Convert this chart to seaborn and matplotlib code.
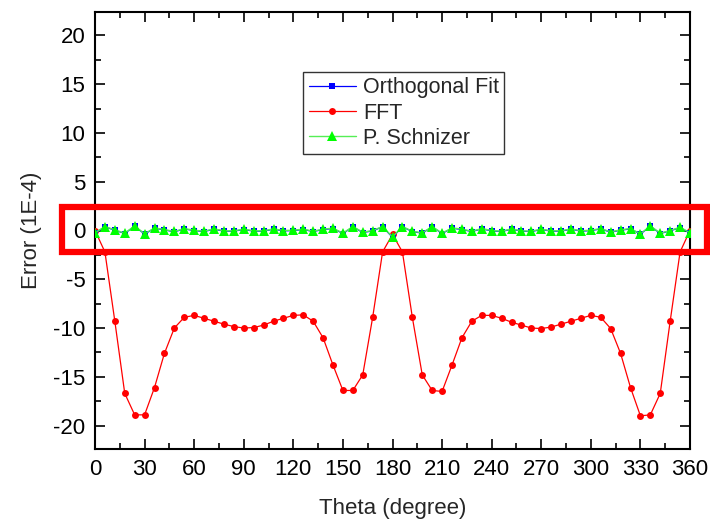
import numpy as np
import pandas as pd
import matplotlib
matplotlib.use("Agg")
import matplotlib.pyplot as plt
from matplotlib.patches import Rectangle
from matplotlib.ticker import MultipleLocator
import seaborn as sns

# Angular positions (degrees), one sample every 6 degrees
theta = list(range(0, 361, 6))

# Reconstruction error of each method, in units of 1E-4
fft_err = [0.0, -2.2, -9.3, -16.7, -18.9, -18.9, -16.1, -12.6, -10.0, -8.9,
           -8.7, -9.0, -9.3, -9.6, -9.85, -10.0, -9.95, -9.7, -9.3, -9.0,
           -8.7, -8.65, -9.3, -11.0, -13.8, -16.4, -16.4, -14.8, -8.9, -2.2,
           -0.4, -2.2, -8.9, -14.8, -16.4, -16.5, -13.8, -11.0, -9.3, -8.7,
           -8.7, -9.0, -9.4, -9.7, -10.0, -10.05, -9.9, -9.6, -9.3, -9.0,
           -8.7, -8.9, -10.05, -12.6, -16.1, -19.0, -18.9, -16.7, -9.3, -2.2,
           0.0]

ortho_err = [-0.28, 0.37, 0.03, -0.31, 0.44, -0.38, 0.23, 0.06, -0.14, 0.16,
             -0.01, -0.11, 0.13, -0.07, -0.07, 0.10, -0.07, -0.07, 0.13, -0.04,
             -0.01, 0.10, -0.11, 0.10, 0.20, -0.31, 0.37, -0.21, -0.04, 0.37,
             -0.70, 0.37, -0.11, -0.28, 0.37, -0.31, 0.23, 0.10, -0.11, 0.16,
             -0.04, -0.11, 0.13, -0.07, -0.11, 0.10, -0.07, -0.07, 0.13, -0.07,
             -0.01, 0.16, -0.18, 0.03, 0.16, -0.38, 0.44, -0.31, -0.04, 0.30,
             -0.28]

schnizer_err = [-0.24, 0.41, 0.07, -0.27, 0.48, -0.34, 0.27, 0.10, -0.10, 0.20,
                0.03, -0.07, 0.17, -0.03, -0.03, 0.14, -0.03, -0.03, 0.17, 0.00,
                0.03, 0.14, -0.07, 0.14, 0.24, -0.27, 0.41, -0.17, 0.00, 0.41,
                -0.66, 0.41, -0.07, -0.24, 0.41, -0.27, 0.27, 0.14, -0.07, 0.20,
                0.00, -0.07, 0.17, -0.03, -0.07, 0.14, -0.03, -0.03, 0.17, -0.03,
                0.03, 0.20, -0.14, 0.07, 0.20, -0.34, 0.48, -0.27, 0.00, 0.34,
                -0.24]

x_ticks = list(range(0, 361, 30))
y_ticks = [-20, -15, -10, -5, 0, 5, 10, 15, 20]

sns.set_theme(style="ticks")
plt.rcParams["font.family"] = ["Liberation Sans", "DejaVu Sans"]
plt.rcParams["axes.unicode_minus"] = False

fig = plt.figure(figsize=(7.1, 5.22), dpi=100)
ax = fig.add_axes([95 / 710, 73 / 522, 595 / 710, 437 / 522])

df = pd.DataFrame({"theta": theta, "Orthogonal Fit": ortho_err,
                   "FFT": fft_err, "P. Schnizer": schnizer_err})

sns.lineplot(data=df, x="theta", y="FFT", ax=ax, color="#ff0000",
             marker="o", markersize=5, markeredgewidth=0, linewidth=0.9,
             label="FFT", zorder=3)
sns.lineplot(data=df, x="theta", y="Orthogonal Fit", ax=ax, color="#0000ff",
             marker="s", markersize=4.5, markeredgewidth=0, linewidth=0.9,
             label="Orthogonal Fit", zorder=4)
sns.lineplot(data=df, x="theta", y="P. Schnizer", ax=ax, color="#55ee55",
             marker="^", markersize=6.5, markerfacecolor="#00ff00",
             markeredgewidth=0, linewidth=1.0, label="P. Schnizer", zorder=5)

ax.set_xlim(0, 360)
ax.set_ylim(-22.4, 22.4)
ax.set_xticks(x_ticks)
ax.set_yticks(y_ticks)
ax.xaxis.set_minor_locator(MultipleLocator(15))
ax.yaxis.set_minor_locator(MultipleLocator(2.5))
ax.tick_params(which="both", direction="in", top=True, right=True,
               width=1.2, colors="black", labelsize=16, pad=7)
ax.tick_params(which="major", length=7)
ax.tick_params(which="minor", length=4)
for s in ax.spines.values():
    s.set_visible(True)
    s.set_linewidth(1.5)
    s.set_color("black")

ax.set_xlabel("Theta (degree)", fontsize=16, labelpad=13)
ax.set_ylabel("Error (1E-4)", fontsize=16, labelpad=8)

# Legend in the order Orthogonal Fit, FFT, P. Schnizer
handles, labels = ax.get_legend_handles_labels()
order = [labels.index(n) for n in ["Orthogonal Fit", "FFT", "P. Schnizer"]]
leg = ax.legend([handles[i] for i in order], [labels[i] for i in order],
                loc="upper left", bbox_to_anchor=(0.35, 0.863),
                borderaxespad=0, fontsize=15.5, frameon=True, fancybox=False,
                handlelength=2.2, handletextpad=0.33, labelspacing=0.2,
                borderpad=0.25)
leg.get_frame().set_edgecolor("black")
leg.get_frame().set_linewidth(1.0)

# Highlight band around the zero-error level
ax.add_patch(Rectangle((-20, -2.25), 390, 4.65, fill=False,
                       edgecolor="#ff0000", linewidth=4.5, clip_on=False,
                       zorder=6))

fig.savefig("out.png", dpi=100)
